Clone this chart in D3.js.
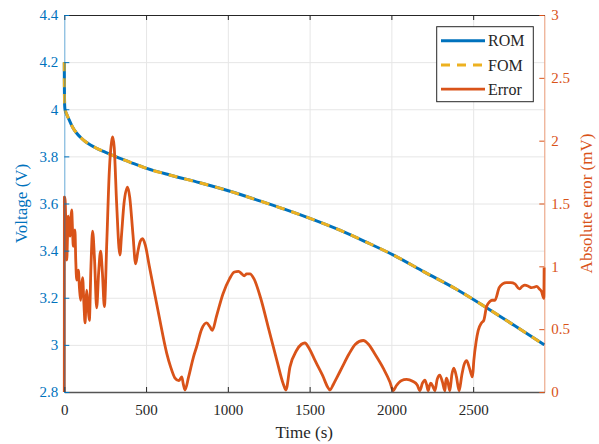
<!DOCTYPE html>
<html>
<head>
<meta charset="utf-8">
<script src="https://cdn.jsdelivr.net/npm/d3@7"></script>
<style>
  html, body { margin: 0; padding: 0; background: #fff; }
  svg { display: block; }
  svg text { font-family: "Liberation Serif", "DejaVu Serif", serif; }
</style>
</head>
<body>
<svg id="chart" width="599" height="444"></svg>
<script>
// Time axis (s) and voltage curves of the reduced-order and full-order models
const timeV = [0, 0.3, 1, 2, 4, 8, 15, 30, 50, 76, 100, 130, 160, 198, 250, 300, 400, 504, 650, 829,
  1003, 1200, 1350, 1502, 1685, 1850, 2013, 2200, 2400, 2572, 2750, 2935];
const romVoltage = [4.2, 4.12, 4.06, 4.02, 4.0, 3.99, 3.978, 3.955, 3.925, 3.898, 3.88, 3.862, 3.848, 3.834,
  3.818, 3.803, 3.776, 3.749, 3.72, 3.688, 3.654, 3.61, 3.575, 3.537, 3.487, 3.435, 3.381, 3.31, 3.235,
  3.162, 3.083, 3.0];
const fomVoltage = [4.2, 4.12, 4.06, 4.02, 4.0, 3.99, 3.978, 3.955, 3.925, 3.898, 3.88, 3.862, 3.848, 3.834,
  3.818, 3.803, 3.776, 3.749, 3.72, 3.688, 3.654, 3.61, 3.575, 3.537, 3.487, 3.435, 3.381, 3.31, 3.235,
  3.162, 3.083, 3.0];

// Absolute error between the two models (mV)
const timeE = [0, 0.5, 4, 10, 15, 20, 24, 30, 35, 40, 45, 50, 55, 60, 65, 70, 76, 82, 86, 93, 100, 106, 112,
  120, 127, 132, 137, 145, 153, 163, 173, 185, 198, 210, 222, 233, 245, 260, 275, 290, 296, 305, 320, 340,
  350, 365, 387, 400, 420, 436, 450, 465, 479, 495, 520, 544, 580, 626, 650, 677, 700, 718, 728, 738, 760,
  790, 809, 840, 870, 890, 905, 930, 970, 1010, 1040, 1065, 1085, 1100, 1115, 1135, 1160, 1200, 1250, 1300,
  1340, 1355, 1380, 1420, 1450, 1471, 1500, 1530, 1553, 1580, 1610, 1624, 1645, 1665, 1700, 1740, 1780,
  1828, 1860, 1900, 1950, 1991, 2011, 2030, 2060, 2093, 2130, 2158, 2174, 2190, 2205, 2215, 2225, 2233,
  2241, 2255, 2266, 2280, 2296, 2312, 2327, 2332, 2337, 2347, 2357, 2370, 2382, 2398, 2414, 2430, 2445,
  2460, 2475, 2490, 2496, 2504, 2518, 2531, 2551, 2565, 2582, 2602, 2615, 2633, 2659, 2680, 2704, 2730,
  2755, 2782, 2800, 2816, 2840, 2857, 2875, 2888, 2905, 2918, 2932, 2934];
const errorMV = [0, 1.55, 1.55, 1.3, 1.05, 1.25, 1.4, 1.3, 1.24, 1.38, 1.45, 1.3, 1.16, 1.22, 1.29, 1.05,
  0.89, 0.95, 0.97, 0.82, 0.73, 0.85, 0.91, 0.7, 0.55, 0.7, 0.81, 0.68, 0.57, 1.0, 1.28, 1.05, 0.67, 0.95,
  1.12, 0.95, 0.68, 1.2, 1.75, 2.0, 2.03, 1.95, 1.5, 1.09, 1.25, 1.5, 1.63, 1.55, 1.25, 1.02, 1.12, 1.2,
  1.22, 1.17, 1.0, 0.84, 0.6, 0.31, 0.2, 0.11, 0.09, 0.12, 0.06, 0.016, 0.12, 0.28, 0.36, 0.5, 0.55, 0.52,
  0.49, 0.6, 0.78, 0.9, 0.955, 0.96, 0.94, 0.925, 0.94, 0.94, 0.9, 0.75, 0.5, 0.25, 0.06, 0.016, 0.2,
  0.33, 0.38, 0.39, 0.34, 0.26, 0.2, 0.13, 0.04, 0.016, 0.06, 0.11, 0.2, 0.3, 0.38, 0.41, 0.38, 0.3,
  0.19, 0.08, 0.01, 0.05, 0.09, 0.1, 0.085, 0.056, 0.01, 0.07, 0.095, 0.06, 0.01, 0.05, 0.07, 0.04, 0.01,
  0.1, 0.135, 0.08, 0.01, 0.08, 0.11, 0.07, 0.01, 0.14, 0.19, 0.12, 0.01, 0.13, 0.22, 0.25, 0.2, 0.135,
  0.12, 0.25, 0.4, 0.49, 0.55, 0.57, 0.68, 0.72, 0.73, 0.73, 0.83, 0.86, 0.87, 0.87, 0.86, 0.82, 0.84,
  0.85, 0.84, 0.83, 0.835, 0.84, 0.82, 0.8, 0.745, 0.99];

// Tick values and legend entries
const timeTicks = [0, 500, 1000, 1500, 2000, 2500];
const voltTicks = [2.8, 3, 3.2, 3.4, 3.6, 3.8, 4, 4.2, 4.4];
const errTicks = [0, 0.5, 1, 1.5, 2, 2.5, 3];
const legendNames = ["ROM", "FOM", "Error"];

const BLUE = "#0072BD", YELLOW = "#EDB120", ORANGE = "#D95319", DARK = "#262626";
const SERIF = "'Liberation Serif', 'DejaVu Serif', serif";

const svg = d3.select("#chart");
const plotL = 64.3, plotR = 544.3, plotT = 15, plotB = 392;

const x = d3.scaleLinear().domain([0, 2935]).range([plotL, plotR]);
const yL = d3.scaleLinear().domain([2.8, 4.4]).range([plotB, plotT]);
const yR = d3.scaleLinear().domain([0, 3]).range([plotB, plotT]);

// grid
svg.append("g")
  .attr("transform", `translate(0,${plotB})`)
  .call(d3.axisBottom(x).tickValues(timeTicks.slice(1)).tickSize(-(plotB - plotT)).tickFormat(""))
  .call(g => g.select(".domain").remove())
  .call(g => g.selectAll("line").attr("stroke", "#e6e6e6").attr("stroke-width", 1));
svg.append("g")
  .attr("transform", `translate(${plotL},0)`)
  .call(d3.axisLeft(yL).tickValues(voltTicks.slice(1, -1)).tickSize(-(plotR - plotL)).tickFormat(""))
  .call(g => g.select(".domain").remove())
  .call(g => g.selectAll("line").attr("stroke", "#e6e6e6").attr("stroke-width", 1));

// voltage curves
const vLine = d3.line().x(d => x(d[0])).y(d => yL(d[1])).curve(d3.curveMonotoneX);
svg.append("path")
  .datum(timeV.map((t, i) => [t, romVoltage[i]]))
  .attr("d", vLine).attr("fill", "none").attr("stroke", BLUE).attr("stroke-width", 3);
svg.append("path")
  .datum(timeV.map((t, i) => [t, fomVoltage[i]]))
  .attr("d", vLine).attr("fill", "none").attr("stroke", YELLOW).attr("stroke-width", 3)
  .attr("stroke-dasharray", "9,7");

// error curve
const eLine = d3.line().x(d => x(d[0])).y(d => yR(d[1])).curve(d3.curveMonotoneX);
svg.append("path")
  .datum(timeE.map((t, i) => [t, errorMV[i]]))
  .attr("d", eLine).attr("fill", "none").attr("stroke", ORANGE).attr("stroke-width", 2.8)
  .attr("stroke-linejoin", "round");

// axes
const tickFont = g => {
  g.attr("font-family", null).attr("font-size", null);
  g.selectAll("text").style("font-family", SERIF).style("font-size", "15px");
};

svg.append("g")
  .attr("transform", `translate(0,${plotT})`)
  .call(d3.axisTop(x).tickValues(timeTicks).tickSize(-5).tickSizeOuter(0).tickFormat(""))
  .call(g => g.select(".domain").attr("stroke", DARK).attr("stroke-width", 1.2))
  .call(g => g.selectAll(".tick line").attr("stroke", DARK));

svg.append("g")
  .attr("transform", `translate(0,${plotB})`)
  .call(d3.axisBottom(x).tickValues(timeTicks).tickSize(-5).tickSizeOuter(0).tickPadding(12).tickFormat(d3.format("d")))
  .call(g => g.select(".domain").attr("stroke", "#555").attr("stroke-width", 1.4))
  .call(g => g.selectAll(".tick line").attr("stroke", DARK))
  .call(g => g.selectAll("text").attr("fill", DARK))
  .call(tickFont);

svg.append("g")
  .attr("transform", `translate(${plotL},0)`)
  .call(d3.axisLeft(yL).tickValues(voltTicks).tickSize(-5).tickSizeOuter(0).tickPadding(6).tickFormat(d3.format("~g")))
  .call(g => g.select(".domain").attr("stroke", BLUE).attr("stroke-opacity", 0.6))
  .call(g => g.selectAll(".tick line").attr("stroke", BLUE))
  .call(g => g.selectAll("text").attr("fill", BLUE))
  .call(tickFont);

svg.append("g")
  .attr("transform", `translate(${plotR},0)`)
  .call(d3.axisRight(yR).tickValues(errTicks).tickSize(-5).tickSizeOuter(0).tickPadding(7).tickFormat(d3.format("~g")))
  .call(g => g.select(".domain").attr("stroke", ORANGE).attr("stroke-opacity", 0.6))
  .call(g => g.selectAll(".tick line").attr("stroke", ORANGE))
  .call(g => g.selectAll("text").attr("fill", ORANGE))
  .call(tickFont);

// axis labels
svg.append("text")
  .attr("x", (plotL + plotR) / 2).attr("y", 438)
  .attr("text-anchor", "middle").style("font-size", "17px").style("font-family", SERIF).attr("fill", DARK)
  .text("Time (s)");
svg.append("text")
  .attr("transform", `translate(27,${(plotT + plotB) / 2}) rotate(-90)`)
  .attr("text-anchor", "middle").style("font-size", "17px").style("font-family", SERIF).attr("fill", BLUE)
  .text("Voltage (V)");
svg.append("text")
  .attr("transform", `translate(592,${(plotT + plotB) / 2}) rotate(-90)`)
  .attr("text-anchor", "middle").style("font-size", "17px").style("font-family", SERIF).attr("fill", ORANGE)
  .text("Absolute error (mV)");

// legend
const legend = svg.append("g");
legend.append("rect")
  .attr("x", 436.7).attr("y", 26.7).attr("width", 96.6).attr("height", 75)
  .attr("fill", "#fff").attr("stroke", DARK).attr("stroke-width", 1);
const legendStyles = [
  { color: BLUE, dash: null },
  { color: YELLOW, dash: "9,7" },
  { color: ORANGE, dash: null }
];
legendNames.forEach((name, i) => {
  const yy = 40.7 + i * 24.2;
  legend.append("line")
    .attr("x1", 441).attr("x2", 485).attr("y1", yy).attr("y2", yy)
    .attr("stroke", legendStyles[i].color).attr("stroke-width", i === 2 ? 2.8 : 3)
    .attr("stroke-dasharray", legendStyles[i].dash);
  legend.append("text")
    .attr("x", 488).attr("y", yy).attr("dy", "0.35em")
    .style("font-size", "16px").style("font-family", SERIF).attr("fill", DARK)
    .text(name);
});
</script>
</body>
</html>
